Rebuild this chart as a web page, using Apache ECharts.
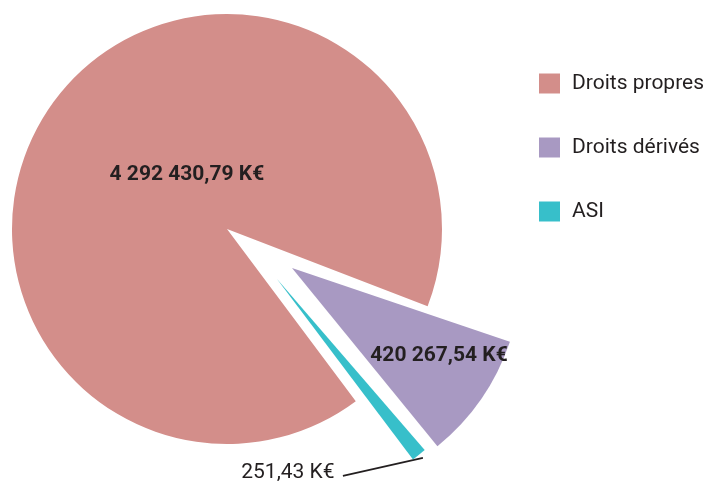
<!DOCTYPE html>
<html>
<head>
<meta charset="utf-8">
<script src="https://cdn.jsdelivr.net/npm/echarts@6/dist/echarts.min.js"></script>
<style>
    html, body { margin: 0; padding: 0; background: #fff; }
    #chart { width: 706px; height: 481px; }
</style>
</head>
<body>
<div id="chart"></div>
<script>
    // data (K€)
    var categories = ['Droits propres', 'Droits dérivés', 'ASI'];
    var values = [4292430.79, 420267.54, 251.43];
    var colors = ['#d38e8a', '#a899c2', '#37bfca'];

    var textColor = '#231f20';
    var fontName = 'Roboto';

    // 4292430.79 -> "4 292 430,79 K€"
    function fmtK(v) {
        var parts = v.toFixed(2).split('.');
        var intPart = parts[0].replace(/\B(?=(\d{3})+(?!\d))/g, ' ');
        return intPart + ',' + parts[1] + ' K€';
    }

    // one pie per slice so the exploded slices can have their own center / radius,
    // the other slices are kept as invisible placeholders to keep the angles right
    function buildData(idx) {
        return values.map(function (v, i) {
            if (i === idx) {
                return { name: categories[i], value: v, itemStyle: { color: colors[i] } };
            }
            return {
                value: v,
                itemStyle: { color: 'transparent' },
                label: { show: false },
                labelLine: { show: false },
                emphasis: { disabled: true }
            };
        });
    }

    var baseSeries = {
        type: 'pie',
        clockwise: true,
        avoidLabelOverlap: false,
        selectedMode: false,
        emphasis: { scale: false },
        silent: true
    };

    var option = {
        animation: false,
        backgroundColor: '#fff',
        legend: {
            orient: 'vertical',
            left: 539,
            top: 73,
            padding: 0,
            itemWidth: 21,
            itemHeight: 20,
            itemGap: 43,
            icon: 'rect',
            selectedMode: false,
            data: categories.map(function (c, i) {
                return { name: c, itemStyle: { color: colors[i] } };
            }),
            textStyle: { fontFamily: fontName, fontSize: 21, color: textColor, padding: [0, 0, 0, 7] }
        },
        series: [
            Object.assign({}, baseSeries, {
                name: categories[0],
                center: [227, 229],
                radius: 215,
                startAngle: -53.2,
                data: buildData(0),
                label: {
                    position: 'inside',
                    formatter: function (p) { return fmtK(p.value); },
                    fontFamily: fontName,
                    fontSize: 21,
                    fontWeight: 'bold',
                    color: textColor
                },
                labelLayout: { dx: 48, dy: 12 }
            }),
            Object.assign({}, baseSeries, {
                name: categories[1],
                center: [292, 268],
                radius: 230,
                startAngle: -50.8,
                data: buildData(1),
                label: {
                    position: 'inside',
                    formatter: function (p) { return fmtK(p.value); },
                    fontFamily: fontName,
                    fontSize: 21,
                    fontWeight: 'bold',
                    color: textColor
                },
                labelLayout: { dx: 50, dy: 21 }
            }),
            Object.assign({}, baseSeries, {
                name: categories[2],
                center: [277, 279],
                radius: 226,
                startAngle: -53.0,
                minAngle: 3.8,
                data: buildData(2),
                label: {
                    position: 'outside',
                    formatter: function (p) { return fmtK(p.value); },
                    fontFamily: fontName,
                    fontSize: 21,
                    color: textColor
                },
                labelLine: {
                    show: true,
                    lineStyle: { color: textColor, width: 1.6 }
                },
                labelLayout: function (params) {
                    if (!params.labelLinePoints) {
                        return {};
                    }
                    var a = params.labelLinePoints[0];
                    var x = a[0] - 131;
                    var y = a[1] + 18;
                    return {
                        x: x,
                        y: y,
                        align: 'center',
                        verticalAlign: 'middle',
                        labelLinePoints: [[a[0] + 4, a[1] + 3], [x + 55, y + 3]]
                    };
                }
            })
        ]
    };

    var myChart = echarts.init(document.getElementById('chart'));
    myChart.setOption(option);
</script>
</body>
</html>
